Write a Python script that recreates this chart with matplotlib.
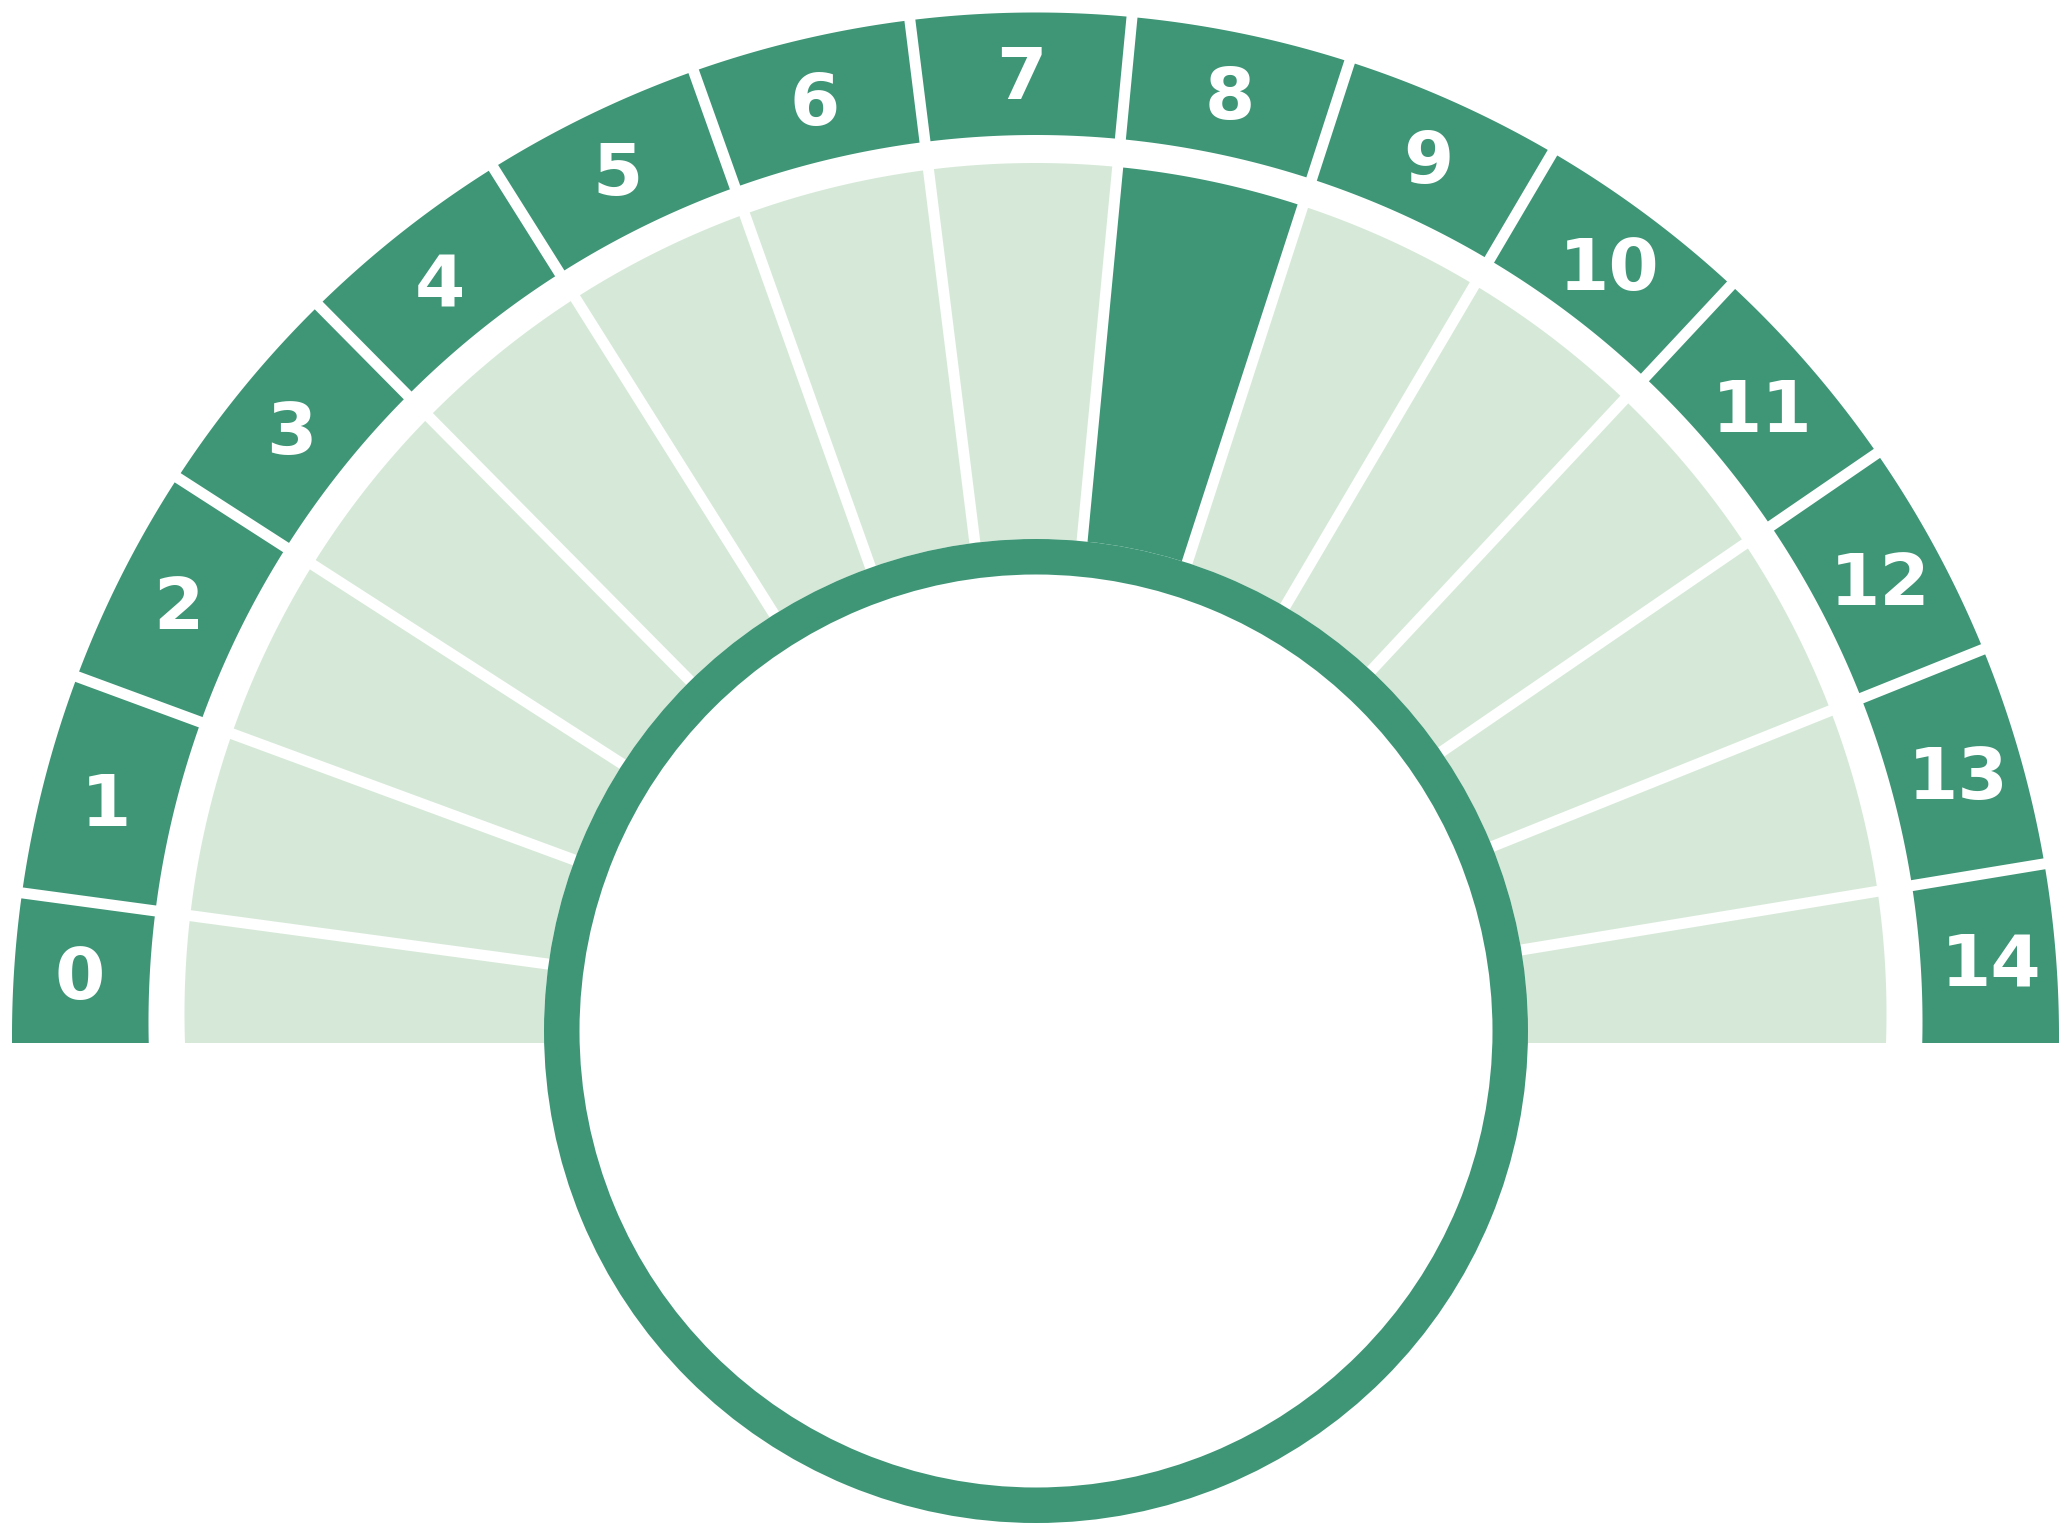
import numpy as np
import matplotlib
matplotlib.use("Agg")
import matplotlib.pyplot as plt
from matplotlib.patches import Polygon, Wedge, Circle, Rectangle

# gauge data
segment_labels = ["0", "1", "2", "3", "4", "5", "6", "7",
                  "8", "9", "10", "11", "12", "13", "14"]
current_value = 8

DARK = "#3e9677"
LIGHT = "#d6e9d8"

W, H = 2072, 1524
cx, cy = 1035.5, 1030.0          # origin of the segment rays
start_deg, step_deg = 184.83, 12.534
baseline_y = 1043.0

# (center, radius) of each band edge
outer_rim = ((1035.5, 1036.0), 1023.5)
dark_inner = ((1035.5, 1022.0), 887.0)
light_outer = ((1035.5, 1014.0), 851.0)

gap = 11.0
label_r = 958.0


def ray_hit(theta, circle):
    (ox, oy), R = circle
    ux, uy = np.cos(theta), -np.sin(theta)
    dx, dy = cx - ox, cy - oy
    b = ux * dx + uy * dy
    c = dx * dx + dy * dy - R * R
    return -b + np.sqrt(b * b - c)


def band(t0, t1, outer, inner=None):
    ts = np.linspace(t0, t1, 80)
    so = ray_hit(ts, outer)
    pts = [np.column_stack([cx + so * np.cos(ts), cy - so * np.sin(ts)])]
    if inner is None:
        pts.append(np.array([[cx, cy]]))
    else:
        tr = ts[::-1]
        si = ray_hit(tr, inner)
        pts.append(np.column_stack([cx + si * np.cos(tr), cy - si * np.sin(tr)]))
    return np.vstack(pts)


fig = plt.figure(figsize=(20.72, 15.24), dpi=100)
ax = fig.add_axes([0, 0, 1, 1])
ax.set_xlim(0, W)
ax.set_ylim(H, 0)
ax.set_aspect("equal")
ax.axis("off")

n = len(segment_labels)
for j, lab in enumerate(segment_labels):
    t0 = np.radians(start_deg - step_deg * j)
    t1 = np.radians(start_deg - step_deg * (j + 1))
    ax.add_patch(Polygon(band(t0, t1, outer_rim, dark_inner), closed=True,
                         fc=DARK, ec="none", zorder=1))
    inner_col = DARK if j == current_value else LIGHT
    ax.add_patch(Polygon(band(t0, t1, light_outer), closed=True,
                         fc=inner_col, ec="none", zorder=1))

    # label in the middle of the visible part of the segment
    lim = np.degrees(np.arcsin((baseline_y - cy) / label_r))
    hi = min(start_deg - step_deg * j, 180 + lim)
    lo = max(start_deg - step_deg * (j + 1), -lim)
    a = np.radians((hi + lo) / 2)
    ax.text(cx + label_r * np.cos(a), cy - label_r * np.sin(a) + 27, lab,
            ha="center", va="baseline", color="white", fontsize=52,
            fontweight="bold", family="DejaVu Sans", zorder=6)

# white separators between segments
for k in range(1, n):
    t = np.radians(start_deg - step_deg * k)
    u = np.array([np.cos(t), -np.sin(t)])
    nv = np.array([np.sin(t), np.cos(t)]) * gap / 2
    c = np.array([cx, cy])
    ax.add_patch(Polygon([c + nv, c + u * 1150 + nv, c + u * 1150 - nv, c - nv],
                         closed=True, fc="white", ec="none", zorder=2))

# cut everything under the baseline
ax.add_patch(Rectangle((0, baseline_y), W, H - baseline_y, fc="white",
                       ec="none", zorder=3))

# centre disc with ring
ax.add_patch(Circle((1036, 1031), 492, fc="white", ec="none", zorder=4))
ax.add_patch(Wedge((1036, 1031), 492, 0, 360, width=35.5, fc=DARK,
                   ec="none", zorder=5))

fig.savefig("out.png", dpi=100, facecolor="white")
